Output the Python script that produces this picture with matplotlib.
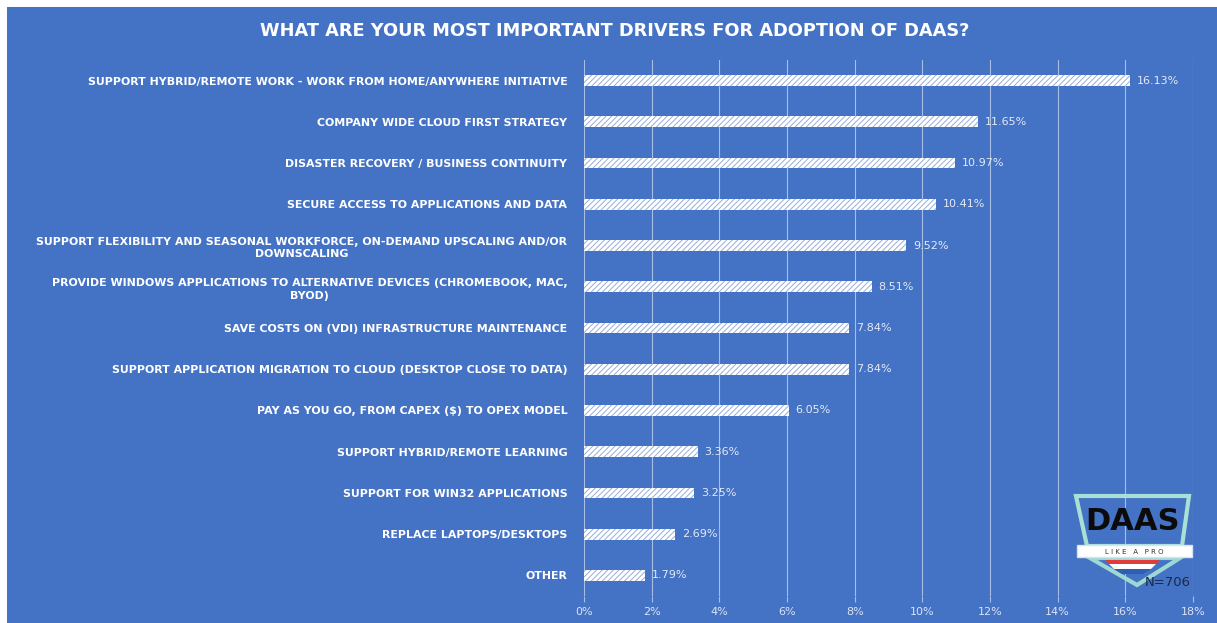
import matplotlib.pyplot as plt
from matplotlib.patches import Rectangle, Polygon

categories = [
    "SUPPORT HYBRID/REMOTE WORK - WORK FROM HOME/ANYWHERE INITIATIVE",
    "COMPANY WIDE CLOUD FIRST STRATEGY",
    "DISASTER RECOVERY / BUSINESS CONTINUITY",
    "SECURE ACCESS TO APPLICATIONS AND DATA",
    "SUPPORT FLEXIBILITY AND SEASONAL WORKFORCE, ON-DEMAND UPSCALING AND/OR\nDOWNSCALING",
    "PROVIDE WINDOWS APPLICATIONS TO ALTERNATIVE DEVICES (CHROMEBOOK, MAC,\nBYOD)",
    "SAVE COSTS ON (VDI) INFRASTRUCTURE MAINTENANCE",
    "SUPPORT APPLICATION MIGRATION TO CLOUD (DESKTOP CLOSE TO DATA)",
    "PAY AS YOU GO, FROM CAPEX ($) TO OPEX MODEL",
    "SUPPORT HYBRID/REMOTE LEARNING",
    "SUPPORT FOR WIN32 APPLICATIONS",
    "REPLACE LAPTOPS/DESKTOPS",
    "OTHER",
]
values = [16.13, 11.65, 10.97, 10.41, 9.52, 8.51, 7.84, 7.84, 6.05, 3.36, 3.25, 2.69, 1.79]
xticks = [0, 2, 4, 6, 8, 10, 12, 14, 16, 18]
title = "WHAT ARE YOUR MOST IMPORTANT DRIVERS FOR ADOPTION OF DAAS?"

BLUE = "#4472C4"
W, H = 1217, 623

plt.rcParams['hatch.linewidth'] = 0.7
fig = plt.figure(figsize=(W / 100, H / 100), dpi=100, facecolor="white")
# blue panel with thin white margin on top/left
fig.patches.append(Rectangle((7 / W, 0), 1, 1 - 7 / H, transform=fig.transFigure,
                             facecolor=BLUE, edgecolor="none", zorder=-10))

ax = fig.add_axes([584 / W, 1 - 596 / H, (1193 - 584) / W, (596 - 60) / H])
ax.set_facecolor("none")
ypos = list(range(len(categories)))
ax.barh(ypos, values, height=0.26, color="white", edgecolor="#96ACD9",
        hatch="//////", linewidth=0, zorder=3)
for y, v in zip(ypos, values):
    ax.text(v + 0.2, y, f"{v:.2f}%", va="center", ha="left", color="#E4EAF6",
            fontsize=8, zorder=4)

ax.set_xlim(0, 18)
ax.set_ylim(len(categories) - 0.5, -0.5)
ax.set_xticks(xticks)
ax.set_xticklabels([f"{t}%" for t in xticks], color="#DCE4F4", fontsize=8)
ax.set_yticks(ypos)
ax.set_yticklabels(categories, color="white", fontsize=7.9, fontweight="bold",
                   multialignment="center", linespacing=1.35)
ax.tick_params(axis="y", length=0, pad=12)
ax.tick_params(axis="x", length=4, color="#A8BDE6", width=0.8, pad=4)
ax.grid(axis="x", color="#A8BDE6", linewidth=0.8, zorder=1)
for s in ax.spines.values():
    s.set_visible(False)

fig.text(615 / W, 1 - 31 / H, title, ha="center", va="center", color="white",
         fontsize=12.8, fontweight="bold")

# logo overlay in pixel coordinates
ov = fig.add_axes([0, 0, 1, 1], zorder=5)
ov.set_xlim(0, W)
ov.set_ylim(H, 0)
ov.axis("off")
ov.add_patch(Polygon([(1076, 496), (1189, 496), (1182, 546), (1087, 546)],
                     closed=True, fill=False, edgecolor="#A9E0D6", linewidth=3))
ov.add_patch(Polygon([(1090, 558), (1180, 558), (1137, 585)],
                     closed=True, fill=False, edgecolor="#9FD8D0", linewidth=3))
ov.add_patch(Rectangle((1077, 545), 115, 12, facecolor="white", edgecolor="#D6E3F3", lw=1))
ov.add_patch(Polygon([(1105, 560), (1160, 560), (1156, 564), (1109, 564)],
                     facecolor="#E03C3C", edgecolor="none"))
ov.add_patch(Polygon([(1109, 564), (1156, 564), (1151, 569), (1114, 569)],
                     facecolor="white", edgecolor="none"))
ov.add_patch(Polygon([(1114, 569), (1151, 569), (1143, 574), (1122, 574)],
                     facecolor="#2E5FB0", edgecolor="none"))
ov.text(1133, 522, "DAAS", ha="center", va="center", color="#0B0B0B", fontsize=22,
        fontweight="bold", family=["Liberation Sans Narrow", "DejaVu Sans"])
ov.text(1134, 551.5, "L I K E   A   P R O", ha="center", va="center", color="#333333",
        fontsize=5)
ov.text(1168, 582, "N=706", ha="center", va="center", color="#1A2A4A", fontsize=9.5)

fig.savefig("out.png", dpi=100, facecolor="white")
